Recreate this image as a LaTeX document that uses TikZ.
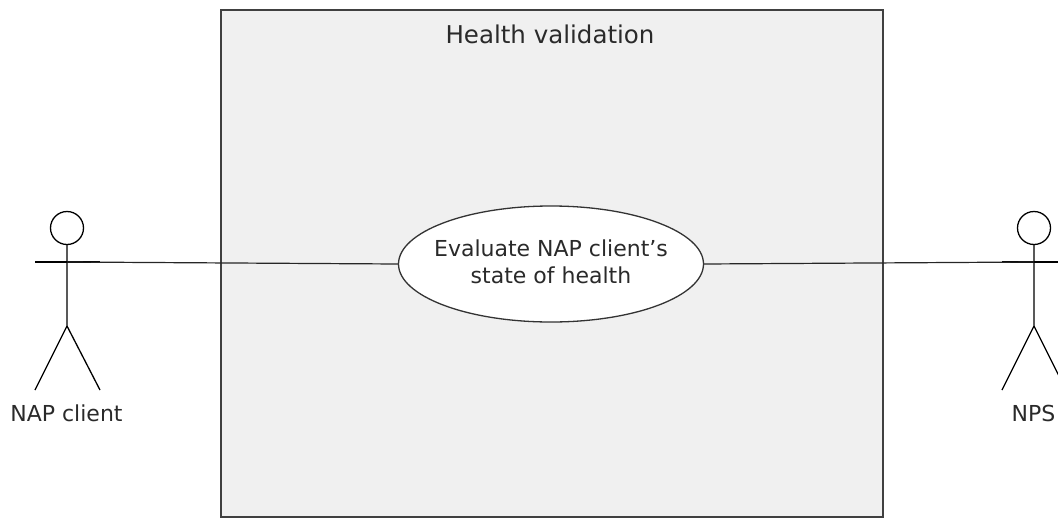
\documentclass[tikz,border=0pt]{standalone}
\usepackage{fontspec}
\setmainfont{DejaVu Sans}
\usetikzlibrary{shapes.geometric}
\definecolor{boxfill}{HTML}{F0F0F0}
\definecolor{boxline}{HTML}{404040}
\definecolor{txt}{HTML}{2A2A2A}
\tikzset{
  sysbox/.style={draw=boxline, fill=boxfill, line width=1.5pt, minimum width=662pt, minimum height=507pt, anchor=north west, inner sep=0pt},
  usecase/.style={ellipse, draw=black!80, fill=white, line width=1.3pt, minimum width=305pt, minimum height=116pt, inner sep=0pt},
  uctext/.style={align=center, text=txt, font=\fontsize{22}{27}\selectfont, inner sep=0pt},
  actorline/.style={draw=black, line width=1.3pt},
  conn/.style={draw=black!85, line width=1.2pt},
  lbl/.style={text=txt, font=\fontsize{22}{27}\selectfont, inner sep=0pt, anchor=base},
  ttl/.style={text=txt, font=\fontsize{24.5}{29}\selectfont, inner sep=0pt, anchor=base}
}
\begin{document}
\begin{tikzpicture}[x=1pt,y=-1pt]
\useasboundingbox (0,0) rectangle (1058,517);
\node[sysbox] (sys) at (220,9) {};
\node[ttl] (title) at (550,43) {Health validation};
\node[usecase] (uc) at (551,264) {};
\node[uctext] (uct) at (551,262) {Evaluate NAP client’s\\state of health};
% left actor
\node[circle, draw=black, line width=1.3pt, minimum size=33pt, inner sep=0pt] (lhead) at (67,228) {};
\coordinate (lact) at (67,262);
\draw[actorline] (35,262) -- (100,262);
\draw[actorline] (lhead.south) -- (67,326) -- (35,390);
\draw[actorline] (67,326) -- (100,390);
\node[lbl] (llbl) at (66.5,421) {NAP client};
% right actor
\node[circle, draw=black, line width=1.3pt, minimum size=33pt, inner sep=0pt] (rhead) at (1034,228) {};
\coordinate (ract) at (1034,262);
\draw[actorline] (1002,262) -- (1066,262);
\draw[actorline] (rhead.south) -- (1034,326) -- (1002,390);
\draw[actorline] (1034,326) -- (1066,390);
\node[lbl] (rlbl) at (1033.5,421) {NPS};
% connectors
\draw[conn] (lact) -- (uc.west);
\draw[conn] (uc.east) -- (ract);
\end{tikzpicture}
\end{document}
